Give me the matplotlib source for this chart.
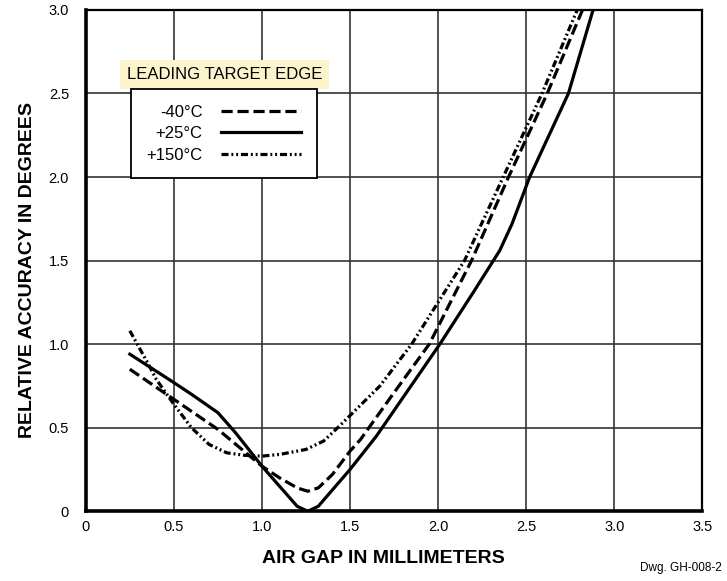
"""Relative accuracy vs. air gap, leading target edge."""

import matplotlib.pyplot as plt
import numpy as np

plt.rcParams["font.family"] = ["Liberation Sans", "DejaVu Sans"]

# -40 C
gap_m40 = [0.25, 0.5, 0.75, 1.0, 1.1, 1.2, 1.26, 1.32, 1.4, 1.5, 1.56, 1.75, 1.95, 2.19, 2.40, 2.62, 2.82]
acc_m40 = [0.85, 0.67, 0.49, 0.27, 0.20, 0.14, 0.12, 0.14, 0.22, 0.36, 0.43, 0.71, 1.0, 1.5, 2.0, 2.5, 3.0]

# +25 C
gap_p25 = [0.25, 0.5, 0.6, 0.75, 0.85, 1.0, 1.1, 1.2, 1.26, 1.32, 1.5, 1.65, 2.01, 2.2, 2.35, 2.42, 2.52, 2.74, 2.88]
acc_p25 = [0.94, 0.77, 0.70, 0.59, 0.47, 0.27, 0.15, 0.03, 0.0, 0.03, 0.25, 0.45, 1.0, 1.31, 1.56, 1.72, 2.0, 2.5, 3.0]

# +150 C
gap_p150 = [0.25, 0.35, 0.4, 0.5, 0.6, 0.7, 0.8, 0.9, 1.0, 1.1, 1.25, 1.35, 1.44, 1.67, 1.85, 2.15, 2.37, 2.59, 2.79]
acc_p150 = [1.08, 0.89, 0.79, 0.64, 0.50, 0.40, 0.35, 0.335, 0.33, 0.34, 0.37, 0.42, 0.51, 0.75, 1.0, 1.5, 2.0, 2.5, 3.0]

x_ticks = [0, 0.5, 1.0, 1.5, 2.0, 2.5, 3.0, 3.5]
x_labels = ["0", "0.5", "1.0", "1.5", "2.0", "2.5", "3.0", "3.5"]
y_ticks = [0, 0.5, 1.0, 1.5, 2.0, 2.5, 3.0]
y_labels = ["0", "0.5", "1.0", "1.5", "2.0", "2.5", "3.0"]

fig = plt.figure(figsize=(7.27, 5.81), dpi=100)
ax = fig.add_axes([0.118, 0.120, 0.848, 0.863])

lw = 2.3
ax.plot(gap_m40, acc_m40, color="black", lw=lw, ls=(0, (3.5, 1.5)), label="-40°C")
ax.plot(gap_p25, acc_p25, color="black", lw=lw, ls="-", label="+25°C")
ax.plot(gap_p150, acc_p150, color="black", lw=lw,
        ls=(0, (2.2, 0.9, 0.6, 0.9, 0.6, 0.9)), label="+150°C")

ax.set_xlim(0, 3.5)
ax.set_ylim(0, 3.0)
ax.set_xticks(x_ticks, x_labels)
ax.set_yticks(y_ticks, y_labels)
ax.tick_params(axis="both", length=0, labelsize=10.5)
ax.tick_params(axis="x", pad=6)
ax.tick_params(axis="y", pad=12)
ax.grid(True, color="#333333", lw=1.2)
ax.set_axisbelow(True)

for side in ("left", "bottom"):
    ax.spines[side].set_linewidth(2.6)
for side in ("top", "right"):
    ax.spines[side].set_linewidth(1.6)

ax.set_xlabel("AIR GAP IN MILLIMETERS", fontsize=14, fontweight="bold", labelpad=12)
ax.set_ylabel("RELATIVE ACCURACY IN DEGREES", fontsize=14, fontweight="bold", labelpad=9)
ax.xaxis.label.set_x(0.482)
ax.yaxis.label.set_y(0.481)

leg = ax.legend(loc="upper left", bbox_to_anchor=(0.073, 0.842), markerfirst=False,
                fontsize=12, handlelength=4.8, labelspacing=0.38, fancybox=False,
                framealpha=1, edgecolor="black", borderpad=0.95, handletextpad=1.1,
                borderaxespad=0)
leg.get_frame().set_linewidth(1.3)

ax.text(0.225, 0.871, "LEADING TARGET EDGE", transform=ax.transAxes, fontsize=12,
        ha="center", va="center",
        bbox=dict(boxstyle="square,pad=0.4", facecolor="#fcf4cc", edgecolor="none"))

fig.text(0.993, 0.022, "Dwg. GH-008-2", fontsize=8.5, ha="right", va="center")

fig.savefig("out.png", dpi=100)
